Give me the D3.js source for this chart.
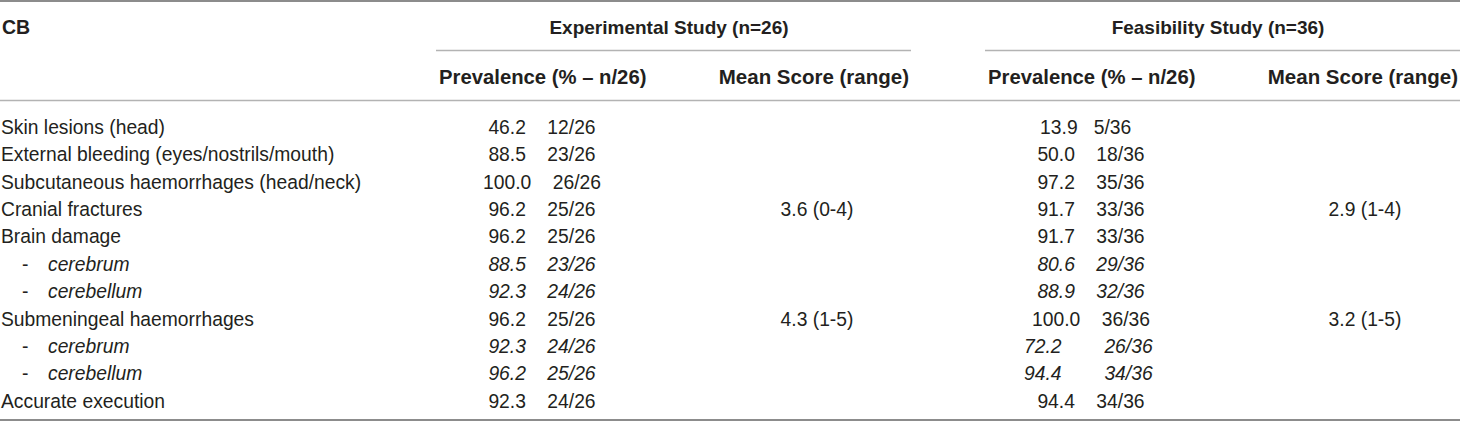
<!DOCTYPE html>
<html>
<head>
<meta charset="utf-8">
<script src="https://cdn.jsdelivr.net/npm/d3@7"></script>
<style>
  html, body { margin: 0; padding: 0; background: #fff; }
  svg text { font-family: "Liberation Sans", Arial, Helvetica, sans-serif; fill: #231f20; white-space: pre; }
</style>
</head>
<body>
<div id="table"></div>
<script>
/* 行ラベルと階層 (0 = 項目, 1 = 下位項目) */
const rowLabels = ['Skin lesions (head)', 'External bleeding (eyes/nostrils/mouth)',
    'Subcutaneous haemorrhages (head/neck)', 'Cranial fractures', 'Brain damage',
    'cerebrum', 'cerebellum', 'Submeningeal haemorrhages', 'cerebrum', 'cerebellum',
    'Accurate execution'];
const rowLevel = [0, 0, 0, 0, 0, 1, 1, 0, 1, 1, 0];

const groups = ['Experimental Study (n=26)', 'Feasibility Study (n=36)'];
const subHeaders = ['Prevalence (% – n/26)', 'Mean Score (range)'];

/* セルの文字列 (元の表の空白も含む) */
const expPrev = ['46.2    12/26', '88.5    23/26', '100.0    26/26', '96.2    25/26', '96.2    25/26',
    '88.5    23/26', '92.3    24/26', '96.2    25/26', '92.3    24/26', '96.2    25/26', '92.3    24/26'];
const expMean = ['', '', '', '3.6 (0-4)', '', '', '', '4.3 (1-5)', '', '', ''];
const feasPrev = ['13.9   5/36  ', '50.0    18/36', '97.2    35/36', '91.7    33/36', '91.7    33/36',
    '80.6    29/36', '88.9    32/36', '100.0    36/36', '72.2        26/36 ', '94.4        34/36 ', '94.4    34/36'];
const feasMean = ['', '', '', '2.9 (1-4)', '', '', '', '3.2 (1-5)', '', '', ''];

const width = 1460;
const height = 425;
const bodySize = 19.3;

const svg = d3.select('#table').append('svg')
    .attr('width', width).attr('height', height);

// 行の縦位置
const y = d3.scalePoint()
    .domain(d3.range(rowLabels.length))
    .range([127, 401]);

// 列の配置 [グループ開始, グループ終了, 見出し中心, 有病率中心, 平均中心]
const groupCols = [
    {x0: 436, x1: 911, title: 669, prev: 542, mean: 817, prevData: expPrev, meanData: expMean},
    {x0: 985, x1: 1460, title: 1218, prev: 1091, mean: 1365, prevData: feasPrev, meanData: feasMean}
];

const hline = (x0, x1, yy, w, c) => {
    svg.append('line')
        .attr('x1', x0).attr('x2', x1).attr('y1', yy).attr('y2', yy)
        .attr('stroke', c).attr('stroke-width', w);
};

// 罫線
hline(0, width, 1, 2, '#8c8c8c');
hline(0, width, 100.5, 1.3, '#b3b3b3');
hline(0, width, 420, 2, '#8c8c8c');

// ヘッダー
svg.append('text')
    .attr('x', 2).attr('y', 27).attr('dy', '0.35em')
    .attr('font-size', 19.5).attr('font-weight', 'bold')
    .text('CB');

groupCols.forEach((g, i) => {
    hline(g.x0, g.x1, 50.5, 1.3, '#b3b3b3');
    svg.append('text')
        .attr('x', g.title).attr('y', 27).attr('dy', '0.35em')
        .attr('text-anchor', 'middle')
        .attr('font-size', 19).attr('font-weight', 'bold')
        .text(groups[i]);
    svg.append('text')
        .attr('x', g.x0 + 3).attr('y', 77).attr('dy', '0.35em')
        .attr('font-size', 20.3).attr('font-weight', 'bold')
        .text(subHeaders[0]);
    svg.append('text')
        .attr('x', g.x1 - 2).attr('y', 77).attr('dy', '0.35em')
        .attr('text-anchor', 'end')
        .attr('font-size', 20.5).attr('font-weight', 'bold')
        .text(subHeaders[1]);
});

// 行ラベル
const rows = svg.selectAll('.row')
    .data(rowLabels)
    .enter()
    .append('g')
    .attr('class', 'row')
    .attr('transform', (d, i) => 'translate(0,' + y(i) + ')');

rows.filter((d, i) => rowLevel[i] === 0)
    .append('text')
    .attr('x', 1).attr('dy', '0.35em')
    .attr('font-size', bodySize)
    .text(d => d);

const subRows = rows.filter((d, i) => rowLevel[i] === 1);
subRows.append('text')
    .attr('x', 22).attr('dy', '0.35em')
    .attr('font-size', bodySize)
    .text('-');
subRows.append('text')
    .attr('x', 48).attr('dy', '0.35em')
    .attr('font-size', bodySize).attr('font-style', 'italic')
    .text(d => d);

// 値のセル
groupCols.forEach(g => {
    rows.append('text')
        .attr('x', g.prev).attr('dy', '0.35em')
        .attr('text-anchor', 'middle')
        .attr('font-size', bodySize)
        .attr('font-style', (d, i) => rowLevel[i] === 1 ? 'italic' : 'normal')
        .text((d, i) => g.prevData[i]);
    rows.append('text')
        .attr('x', g.mean).attr('dy', '0.35em')
        .attr('text-anchor', 'middle')
        .attr('font-size', bodySize)
        .text((d, i) => g.meanData[i]);
});
</script>
</body>
</html>
